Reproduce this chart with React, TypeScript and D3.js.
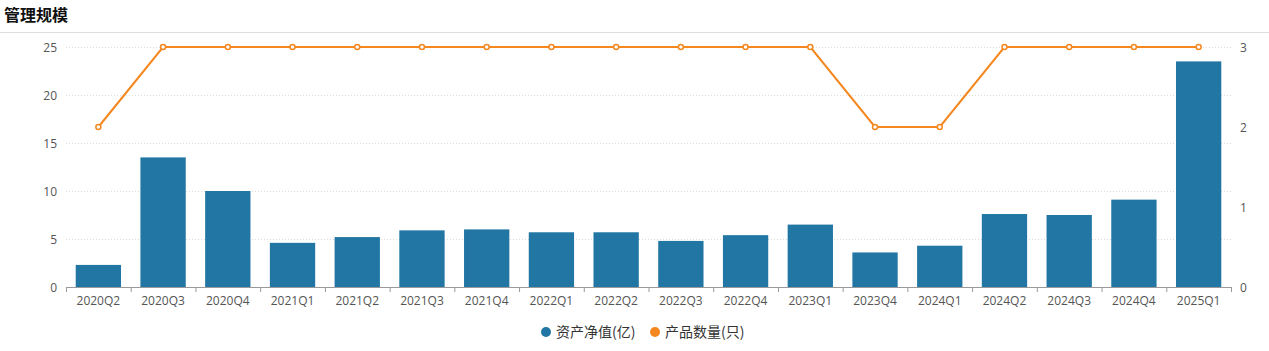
import React from "react";
import * as d3 from "d3";

const categories = [
  "2020Q2", "2020Q3", "2020Q4", "2021Q1", "2021Q2", "2021Q3", "2021Q4", "2022Q1", "2022Q2",
  "2022Q3", "2022Q4", "2023Q1", "2023Q4", "2024Q1", "2024Q2", "2024Q3", "2024Q4", "2025Q1",
];
const netAssets = [2.3, 13.5, 10.0, 4.6, 5.2, 5.9, 6.0, 5.7, 5.7, 4.8, 5.4, 6.5, 3.6, 4.3, 7.6, 7.5, 9.1, 23.5];
const productCount = [2, 3, 3, 3, 3, 3, 3, 3, 3, 3, 3, 3, 2, 2, 3, 3, 3, 3];
const leftTicks = [0, 5, 10, 15, 20, 25];
const rightTicks = [0, 1, 2, 3];
const seriesNames = ["资产净值(亿)", "产品数量(只)"];

const W = 1269;
const H = 351;
const font = "'Noto Sans CJK SC', 'Noto Sans', sans-serif";
const numFont = "'Open Sans', 'Noto Sans CJK SC', sans-serif";
const barColor = "#2176a3";
const lineColor = "#f5871f";

export default function App() {
  const x = d3.scaleBand().domain(categories).range([66, 1231]).paddingInner(0.3).paddingOuter(0.15);
  const step = x.step();
  const y = d3.scaleLinear().domain([0, 25]).range([287, 47]);
  const y2 = d3.scaleLinear().domain([0, 3]).range([287, 47]);
  const cx = (c: string) => (x(c) as number) + x.bandwidth() / 2;
  const line = d3
    .line<number>()
    .x((_, i) => cx(categories[i]))
    .y((d) => y2(d));

  return (
    <svg width={W} height={H} style={{ position: "absolute", left: 0, top: 0 }} fontFamily={font}>
      <rect width={W} height={H} fill="#fff" />
      <text x={4} y={21} fontSize={16} fontWeight="bold" fill="#111">管理规模</text>
      <line x1={0} x2={W} y1={32.5} y2={32.5} stroke="#ddd" />

      {leftTicks.map((t) => (
        <g key={t}>
          {t > 0 && (
            <line x1={66} x2={1231} y1={Math.round(y(t)) + 0.5} y2={Math.round(y(t)) + 0.5}
              stroke="#ddd" strokeDasharray="1,2" />
          )}
          <text x={57} y={y(t) + 4.5} fontSize={12} fill="#555" textAnchor="end" fontFamily={numFont}>{t}</text>
        </g>
      ))}
      {rightTicks.map((t) => (
        <text key={t} x={1240} y={y2(t) + 4.5} fontSize={12} fill="#555" fontFamily={numFont}>{t}</text>
      ))}

      {categories.map((c, i) => (
        <rect key={c} x={x(c)} y={y(netAssets[i])} width={x.bandwidth()} height={287 - y(netAssets[i])} fill={barColor} />
      ))}

      <line x1={66} x2={1231} y1={287.5} y2={287.5} stroke="#999" />
      {d3.range(categories.length + 1).map((i) => (
        <line key={i} x1={66 + i * step + 0.5} x2={66 + i * step + 0.5} y1={287} y2={292} stroke="#999" />
      ))}
      {categories.map((c) => (
        <text key={c} x={cx(c)} y={305} fontSize={12} fill="#555" textAnchor="middle" fontFamily={numFont}>{c}</text>
      ))}

      <path d={line(productCount) || ""} fill="none" stroke={lineColor} strokeWidth={2} />
      {productCount.map((v, i) => (
        <circle key={i} cx={cx(categories[i])} cy={y2(v)} r={2.5} fill="#fff" stroke={lineColor} strokeWidth={1.5} />
      ))}

      <g fontSize={14} fill="#333">
        <circle cx={546} cy={332} r={5} fill={barColor} />
        <text x={556} y={337}>{seriesNames[0]}</text>
        <circle cx={655} cy={332} r={5} fill={lineColor} />
        <text x={665} y={337}>{seriesNames[1]}</text>
      </g>
    </svg>
  );
}
